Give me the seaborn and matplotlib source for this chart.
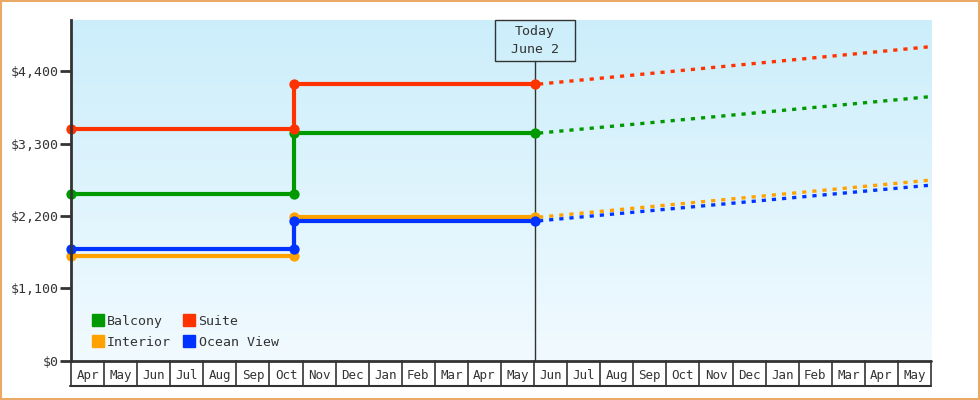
import numpy as np
import pandas as pd
import matplotlib
matplotlib.use("Agg")
import matplotlib.pyplot as plt
import seaborn as sns
from matplotlib.lines import Line2D
from matplotlib.patches import Rectangle
import matplotlib.transforms as mtransforms

# x positions are months counted from April 1 of the first year
series = ['Balcony', 'Suite', 'Interior', 'Ocean View']
colors = ['#009900', '#ff3300', '#ffa200', '#0033ff']

change_x = 6.73   # late October price change
today_x = 14.03   # June 2
end_x = 26.0      # end of May, two years on

price_before = [2540, 3520, 1590, 1695]
price_after = [3460, 4205, 2180, 2125]
forecast_end = [4015, 4775, 2745, 2668]

months = ['Apr', 'May', 'Jun', 'Jul', 'Aug', 'Sep', 'Oct', 'Nov', 'Dec', 'Jan', 'Feb', 'Mar', 'Apr',
          'May', 'Jun', 'Jul', 'Aug', 'Sep', 'Oct', 'Nov', 'Dec', 'Jan', 'Feb', 'Mar', 'Apr', 'May']

yticks = [0, 1100, 2200, 3300, 4400]
ytick_labels = ['$0', '$1,100', '$2,200', '$3,300', '$4,400']

sns.set_style('white')
plt.rcParams['font.family'] = ['DejaVu Sans Mono', 'DejaVu Sans']
text_col = '#333333'

fig = plt.figure(figsize=(9.8, 4), dpi=100)
ax_h = 340.5
ax = fig.add_axes([71 / 980, (400 - 360.5) / 400, 860 / 980, ax_h / 400])
ymax = 5180
ax.set_xlim(0, end_x)
ax.set_ylim(0, ymax)

# gradient background
grad = np.linspace(0, 1, 256).reshape(-1, 1)
top = np.array([204, 238, 251]) / 255
bot = np.array([241, 250, 255]) / 255
img = top * (1 - grad[..., None]) + bot * grad[..., None]
img = img.reshape(256, 1, 3)
ax.imshow(img, extent=[0, end_x, 0, ymax], aspect='auto', origin='upper', zorder=0)

# solid step lines and forecast dashes
for name, c, b, a, f in zip(series, colors, price_before, price_after, forecast_end):
    solid = pd.DataFrame({'x': [0, change_x, change_x, today_x],
                          'y': [b, b, a, a]})
    sns.lineplot(data=solid, x='x', y='y', sort=False, estimator=None, color=c,
                 lw=3, ax=ax, zorder=3)
    fc = pd.DataFrame({'x': [today_x + 0.12, end_x], 'y': [a, f]})
    sns.lineplot(data=fc, x='x', y='y', sort=False, estimator=None, color=c,
                 lw=2.4, ax=ax, zorder=3, linestyle=(0, (1.25, 1.8)))
    sns.scatterplot(data=solid, x='x', y='y', color=c, s=55, marker='o', linewidth=0,
                    ax=ax, zorder=4, clip_on=False)

# today marker: box at the top, line down to the axis
trans = mtransforms.blended_transform_factory(ax.transData, ax.transAxes)
box_w = 80 / (860 / end_x)
box_h = 41 / ax_h
ax.axvline(today_x, ymax=1 - box_h, color=text_col, lw=1, zorder=2)
ax.add_patch(Rectangle((today_x - box_w / 2, 1 - box_h), box_w, box_h, transform=trans,
                       fill=False, ec=text_col, lw=1, zorder=6, clip_on=False))
ax.text(today_x, 1 - box_h / 2, 'Today\nJune 2', ha='center', va='center', fontsize=9.5,
        color=text_col, linespacing=1.45, transform=trans, zorder=6)

# axes styling
for s in ['top', 'right', 'bottom']:
    ax.spines[s].set_visible(False)
ax.spines['left'].set_color(text_col)
ax.spines['left'].set_linewidth(2)
ax.spines['left'].set_zorder(5)
ax.axhline(0, color=text_col, lw=2, zorder=5, clip_on=False)
ax.set_yticks(yticks)
ax.set_yticklabels(ytick_labels, fontsize=9.5, color=text_col)
ax.tick_params(axis='y', length=8, width=2, color=text_col, pad=1, left=True)
ax.set_xticks(np.arange(len(months)) + 0.5)
ax.set_xticklabels(months, fontsize=9, color=text_col)
ax.tick_params(axis='x', length=0, pad=6)
ax.set_xlabel('')
ax.set_ylabel('')

# month cells below the axis
cell_h = 25 / ax_h
for i in range(len(months) + 1):
    ax.add_line(Line2D([i, i], [0, -cell_h], transform=trans, color=text_col, lw=1.2,
                       clip_on=False))
ax.add_line(Line2D([-0.03, end_x], [-cell_h, -cell_h], transform=trans, color=text_col,
                   lw=1.5, clip_on=False))

# legend
handles = [Line2D([], [], marker='s', ls='none', markersize=9, color=c) for c in colors]
order = [0, 2, 1, 3]
ax.legend([handles[i] for i in order], [series[i] for i in order], ncol=2, frameon=False,
          loc='lower left', bbox_to_anchor=(0.011, 0.0), fontsize=9.5, handlelength=0.8,
          handletextpad=0.3, columnspacing=1.0, labelspacing=0.6,
          labelcolor=text_col)

# orange frame around the figure
fig.patches.append(Rectangle((0.001, 0.002), 0.998, 0.996, transform=fig.transFigure,
                             fill=False, ec='#e8aa66', lw=1.5))

fig.savefig('out.png', dpi=100, facecolor='white')
